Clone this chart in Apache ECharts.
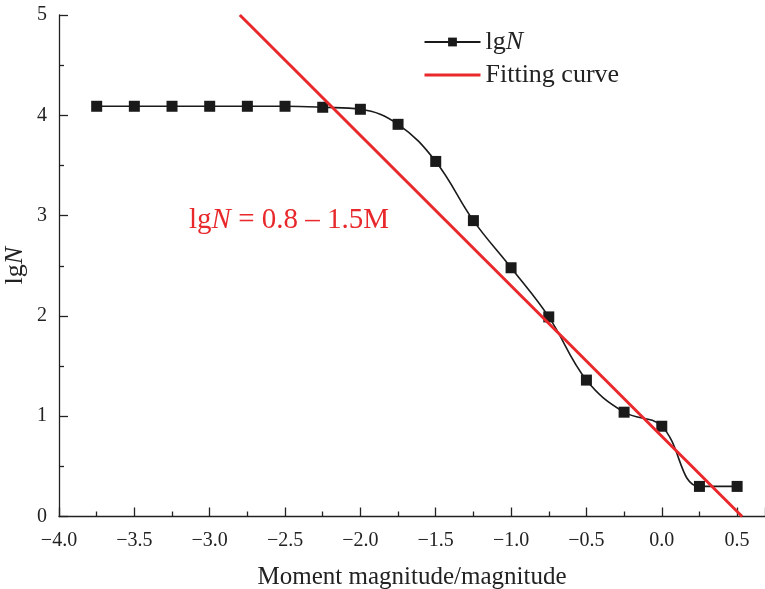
<!DOCTYPE html>
<html><head><meta charset="utf-8">
<script src="https://cdn.jsdelivr.net/npm/echarts@6/dist/echarts.min.js"></script>
<style>html,body{margin:0;padding:0;background:#fff}#c{width:765px;height:589px}</style>
</head><body><div id="c"></div>
<script>
const magnitudes = [-3.75,-3.5,-3.25,-3,-2.75,-2.5,-2.25,-2,-1.75,-1.5,-1.25,-1,-0.75,-0.5,-0.25,0,0.25,0.5];
const lgNValues = [4.09,4.09,4.09,4.09,4.09,4.09,4.08,4.06,3.91,3.54,2.95,2.48,1.99,1.36,1.04,0.90,0.30,0.30];
const fitX = [-2.8, 0.5333];
const fitY = [5.0, 0.0];
const xTickLabels = ['-4.0','-3.5','-3.0','-2.5','-2.0','-1.5','-1.0','-0.5','0.0','0.5'];
const yTickLabels = ['0','1','2','3','4','5'];

const FONT = '"Liberation Serif","Times New Roman",serif';
const RED = '#e8282b';
const chart = echarts.init(document.getElementById('c'), null, {renderer:'canvas'});
chart.setOption({
  animation:false,
  backgroundColor:'#fff',
  grid:{left:59, right:0, top:15, bottom:72.5, containLabel:false, outerBoundsMode:'none'},
  legend:{
    orient:'vertical', left:423, top:29, padding:0, itemGap:7, itemWidth:56, itemHeight:11,
    textStyle:{fontFamily:FONT, fontSize:26, color:'#222',
      rich:{a:{fontFamily:FONT,fontSize:26,color:'#222'}, b:{fontFamily:FONT,fontSize:26,fontStyle:'italic',color:'#222'}}},
    formatter: n => n === 'lgN' ? '{a|lg}{b|N}' : n,
    data:['lgN', {name:'Fitting curve', itemStyle:{opacity:0}, lineStyle:{width:3, color:RED}}]
  },
  xAxis:{
    type:'value', min:-4, max:0.685, interval:0.5,
    axisLine:{show:true, onZero:false, lineStyle:{color:'#222', width:1.3}},
    axisTick:{show:true, inside:true, length:9, lineStyle:{color:'#222', width:1.3}},
    minorTick:{show:true, splitNumber:2, length:5, lineStyle:{color:'#222', width:1.3}},
    splitLine:{show:false},
    axisLabel:{fontFamily:FONT, fontSize:20, color:'#222', margin:14,
      showMaxLabel:false,
      formatter: v => { const i = Math.round((v + 4) / 0.5); return (Math.abs(v + 4 - i*0.5) < 1e-6 && xTickLabels[i]) ? xTickLabels[i].replace('-', '\u2212') : ''; }},
    name:'Moment magnitude/magnitude', nameLocation:'middle', nameGap:48, nameMoveOverlap:false,
    nameTextStyle:{fontFamily:FONT, fontSize:25, color:'#222'}
  },
  yAxis:{
    type:'value', min:0, max:5, interval:1,
    axisLine:{show:true, onZero:false, lineStyle:{color:'#222', width:1.3}},
    axisTick:{show:true, inside:true, length:9, lineStyle:{color:'#222', width:1.3}},
    minorTick:{show:true, splitNumber:2, length:5, lineStyle:{color:'#222', width:1.3}},
    splitLine:{show:false},
    axisLabel:{fontFamily:FONT, fontSize:20, color:'#222', margin:12,
      formatter: v => yTickLabels[Math.round(v)] ?? ''},
    name:'{a|lg}{b|N}', nameLocation:'middle', nameGap:31, nameRotate:90, nameMoveOverlap:false,
    nameTextStyle:{fontFamily:FONT, fontSize:26, color:'#222',
      rich:{a:{fontFamily:FONT,fontSize:26,color:'#222'}, b:{fontFamily:FONT,fontSize:26,fontStyle:'italic',color:'#222'}}}
  },
  series:[
    {
      name:'lgN', type:'line', smooth:0.4,
      data: magnitudes.map((m,i)=>[m, lgNValues[i]]),
      symbol:'rect', symbolSize:11,
      itemStyle:{color:'#1a1a1a'},
      lineStyle:{color:'#1a1a1a', width:1.6},
      z:2
    },
    {
      name:'Fitting curve', type:'line',
      data: fitX.map((x,i)=>[x, fitY[i]]),
      symbol:'none', clip:true,
      itemStyle:{color:RED},
      lineStyle:{color:RED, width:3},
      z:3
    }
  ],
  graphic:[{
    type:'text', left:189, top:206,
    style:{
      text:'{a|lg}{b|N}{a| = 0.8 \u2013 1.5M}',
      rich:{a:{fontFamily:FONT,fontSize:29,fill:RED}, b:{fontFamily:FONT,fontSize:29,fontStyle:'italic',fill:RED}}
    }
  }]
});
</script></body></html>
